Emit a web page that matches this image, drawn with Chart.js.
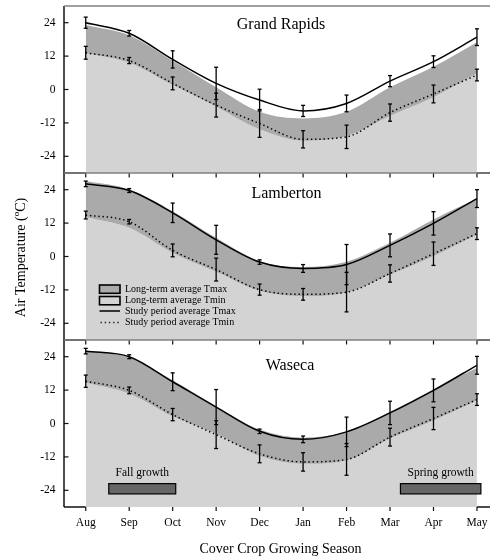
<!DOCTYPE html>
<html><head><meta charset="utf-8">
<script src="https://cdn.jsdelivr.net/npm/chart.js@4.4.1/dist/chart.umd.min.js"></script>
<style>
html,body{margin:0;padding:0;background:#fff;}
#wrap{position:relative;width:490px;height:560px;}
canvas{position:absolute;left:0;top:0;}
</style></head><body>
<div id="wrap">
<canvas id="c1" width="490" height="560"></canvas>
<canvas id="c2" width="490" height="560"></canvas>
<canvas id="c3" width="490" height="560"></canvas>
</div>
<script>
// ---------- data ----------
const months = ['Aug','Sep','Oct','Nov','Dec','Jan','Feb','Mar','Apr','May'];
const yTicks = [-24, -12, 0, 12, 24];
const siteNames = ['Grand Rapids', 'Lamberton', 'Waseca'];

const grStudyTmax    = [24.0, 20.2, 10.8, 2.2, -3.8, -7.7, -5.0, 3.0, 10.0, 18.8];
const grStudyTmaxErr = [2.0, 1.0, 3.1, 5.8, 3.9, 2.0, 3.0, 2.0, 2.1, 3.0];
const grStudyTmin    = [13.2, 10.4, 2.2, -5.6, -12.2, -17.9, -17.0, -8.3, -1.6, 5.2];
const grStudyTminErr = [2.3, 1.1, 2.3, 4.3, 5.0, 3.1, 4.2, 3.1, 3.2, 2.1];
const grLongTmax     = [23.2, 19.5, 10.3, 0.8, -8.0, -10.4, -8.0, 0.8, 8.2, 17.0];
const grLongTmin     = [13.0, 9.6, 1.6, -6.2, -14.3, -18.4, -16.7, -9.5, -2.8, 5.8];

const laStudyTmax    = [26.1, 23.7, 15.7, 6.0, -2.0, -4.3, -2.9, 4.0, 11.9, 20.8];
const laStudyTmaxErr = [1.0, 0.7, 3.5, 5.2, 0.8, 1.4, 7.2, 4.1, 4.2, 3.2];
const laStudyTmin    = [14.9, 12.5, 2.2, -4.7, -11.9, -13.6, -12.8, -6.1, 1.0, 8.2];
const laStudyTminErr = [1.4, 0.8, 2.3, 4.1, 2.0, 2.1, 7.1, 3.1, 4.2, 2.1];
const laLongTmax     = [27.1, 24.1, 16.3, 6.7, -1.7, -3.8, -1.9, 4.9, 13.3, 20.8];
const laLongTmin     = [14.2, 10.3, 1.3, -5.5, -12.4, -14.2, -13.0, -6.5, 0.1, 7.9];

const waStudyTmax    = [26.0, 24.0, 15.0, 5.9, -2.8, -5.7, -3.0, 3.8, 11.9, 20.9];
const waStudyTmaxErr = [1.0, 0.7, 3.2, 6.3, 0.8, 1.2, 5.3, 4.2, 4.1, 3.2];
const waStudyTmin    = [15.2, 11.9, 3.2, -4.0, -10.9, -13.8, -12.9, -4.9, 1.8, 8.6];
const waStudyTminErr = [2.2, 1.2, 2.2, 5.0, 3.2, 3.3, 5.7, 3.2, 4.0, 2.1];
const waLongTmax     = [26.2, 23.6, 15.5, 6.2, -2.2, -5.1, -3.0, 4.2, 12.2, 20.0];
const waLongTmin     = [14.6, 10.7, 2.6, -3.7, -11.7, -14.5, -13.3, -5.4, 1.1, 8.3];

const legendLabels = ['Long-term average Tmax', 'Long-term average Tmin', 'Study period average Tmax', 'Study period average Tmin'];
const growthLabels = ['Fall growth', 'Spring growth'];
const growthStart  = [0.53, 7.24];   // month index
const growthEnd    = [2.07, 9.09];
const growthTemp   = [-21.6, -25.3]; // bar top / bottom (°C)
const growthLabelTemp = -17.7;

const xTitle = 'Cover Crop Growing Season';
const yTitleParts = ['Air Temperature (', 'o', 'C)'];

// ---------- styles ----------
const FONT = "'Liberation Serif','Times New Roman',serif";
const DARK = '#aaaaaa', LIGHT = '#d3d3d3';
Chart.defaults.font.family = FONT;
Chart.defaults.color = '#000';

function pts(arr){ return arr.map((v,i)=>({x:i, y:v})); }

function line(ctx,x1,y1,x2,y2){ ctx.beginPath(); ctx.moveTo(x1,y1); ctx.lineTo(x2,y2); ctx.stroke(); }

function makeChart(id, p){
  const framePlugin = {
    id: 'frame'+id,
    afterDatasetsDraw(chart){
      const {ctx, chartArea:a, scales:{x, y}} = chart;
      ctx.save();
      // error bars
      ctx.strokeStyle = '#000'; ctx.lineWidth = 1.3;
      [[p.stMax,p.stMaxErr],[p.stMin,p.stMinErr]].forEach(([vals,errs])=>{
        vals.forEach((v,i)=>{
          const px = x.getPixelForValue(i);
          const y1 = y.getPixelForValue(v+errs[i]), y2 = y.getPixelForValue(v-errs[i]);
          line(ctx,px,y1,px,y2);
          line(ctx,px-2,y1,px+2,y1);
          line(ctx,px-2,y2,px+2,y2);
        });
      });
      // axes
      ctx.strokeStyle = '#111'; ctx.lineWidth = 1.5;
      line(ctx,a.left,a.top,a.left,a.bottom);
      const x0 = x.getPixelForValue(0), x9 = x.getPixelForValue(months.length-1);
      line(ctx,a.left,a.bottom,x0,a.bottom);
      line(ctx,x9,a.bottom,a.right,a.bottom);
      ctx.lineWidth = 1.2;
      yTicks.forEach(v=>{ const py = y.getPixelForValue(v); line(ctx,a.left,py,a.left+4.5,py); });
      months.forEach((m,i)=>{
        const px = x.getPixelForValue(i);
        if (p.topTicks) line(ctx,px,a.top,px,a.top+4.5);
        if (p.showX) line(ctx,px,a.bottom,px,a.bottom+4);
      });
      ctx.strokeStyle = '#808080'; ctx.lineWidth = 1.5;
      line(ctx,a.left,a.top,a.right,a.top);
      // panel title
      ctx.fillStyle = '#000';
      ctx.font = '16px '+FONT; ctx.textAlign='center'; ctx.textBaseline='middle';
      ctx.fillText(p.name, p.titleX, p.titleY);
      // legend
      if (p.legend){
        const lx = 99.5, lw = 20.5, tx = 125;
        ctx.lineWidth = 1.6; ctx.strokeStyle = '#000';
        ctx.fillStyle = DARK; ctx.fillRect(lx,285,lw,8.3); ctx.strokeRect(lx,285,lw,8.3);
        ctx.fillStyle = LIGHT; ctx.fillRect(lx,296.5,lw,8.3); ctx.strokeRect(lx,296.5,lw,8.3);
        ctx.strokeStyle = '#222'; ctx.lineWidth = 1.8;
        line(ctx,lx,311,lx+lw,311);
        ctx.setLineDash([1.4,2.8]); ctx.lineWidth = 1.4;
        line(ctx,lx+1,322.5,lx+lw,322.5);
        ctx.setLineDash([]);
        ctx.fillStyle = '#000'; ctx.font = '10px '+FONT; ctx.textAlign='left'; ctx.textBaseline='middle';
        const ly = [289, 300.5, 311, 322.5];
        legendLabels.forEach((t,i)=>ctx.fillText(t, tx, ly[i]));
        // y axis title
        ctx.save();
        ctx.translate(20, 257.5); ctx.rotate(-Math.PI/2);
        ctx.font = '14px '+FONT;
        const w0 = ctx.measureText(yTitleParts[0]).width;
        ctx.font = '9px '+FONT; const w1 = ctx.measureText(yTitleParts[1]).width;
        ctx.font = '14px '+FONT; const w2 = ctx.measureText(yTitleParts[2]).width;
        let sx = -(w0+w1+w2)/2;
        ctx.textAlign='left'; ctx.textBaseline='alphabetic';
        ctx.fillText(yTitleParts[0], sx, 5); sx += w0;
        ctx.font = '9px '+FONT; ctx.fillText(yTitleParts[1], sx, -1); sx += w1;
        ctx.font = '14px '+FONT; ctx.fillText(yTitleParts[2], sx, 5);
        ctx.restore();
      }
      // growth periods
      if (p.growth){
        ctx.lineWidth = 1.2; ctx.strokeStyle = '#000';
        growthLabels.forEach((t,i)=>{
          const xa = x.getPixelForValue(growthStart[i]), xb = x.getPixelForValue(growthEnd[i]);
          const ya = y.getPixelForValue(growthTemp[0]), yb = y.getPixelForValue(growthTemp[1]);
          ctx.fillStyle = '#666';
          ctx.fillRect(xa,ya,xb-xa,yb-ya); ctx.strokeRect(xa,ya,xb-xa,yb-ya);
          ctx.fillStyle = '#000'; ctx.font = '11.5px '+FONT; ctx.textAlign='center'; ctx.textBaseline='middle';
          ctx.fillText(t, (xa+xb)/2, y.getPixelForValue(growthLabelTemp));
        });
        ctx.font = '14px '+FONT; ctx.textAlign='center'; ctx.textBaseline='middle';
        ctx.fillText(xTitle, 280.5, 549);
      }
      ctx.restore();
    }
  };

  return new Chart(document.getElementById(id), {
    type: 'line',
    data: {
      datasets: [
        { label: legendLabels[2], data: pts(p.stMax), borderColor:'#000', borderWidth:1.5, fill:false },
        { label: legendLabels[3], data: pts(p.stMin), borderColor:'#000', borderWidth:1.5, borderDash:[1.4,2.8], fill:false },
        { label: legendLabels[0], data: pts(p.ltMax), borderWidth:0, borderColor:'rgba(0,0,0,0)', backgroundColor: DARK, fill:'+1' },
        { label: legendLabels[1], data: pts(p.ltMin), borderWidth:0, borderColor:'rgba(0,0,0,0)', backgroundColor: LIGHT, fill:'start' }
      ]
    },
    options: {
      responsive:false, animation:false, devicePixelRatio:1,
      layout:{ padding:{ top:p.padTop, bottom:p.padBottom, left:0, right:0 } },
      plugins:{ legend:{display:false}, tooltip:{enabled:false}, filler:{ drawTime:'beforeDatasetsDraw', propagate:false } },
      elements:{ point:{ radius:0 }, line:{ cubicInterpolationMode:'monotone' } },
      scales:{
        x:{ type:'linear', min:-0.5, max:9.3, display:p.showX,
            grid:{display:false, drawTicks:false}, border:{display:false},
            afterBuildTicks:s=>{ s.ticks = months.map((m,i)=>({value:i})); },
            afterFit:s=>{ s.height = p.showX ? 30 : 0; s.paddingLeft = 0; s.paddingRight = 0; s.paddingTop = 0; s.paddingBottom = 0; },
            ticks:{ padding:9, font:{size:11.5, lineHeight:1.2}, maxRotation:0, autoSkip:false, callback:v=>months[v] } },
        y:{ type:'linear', min:-30, max:30,
            grid:{display:false, drawTicks:false}, border:{display:false},
            afterBuildTicks:s=>{ s.ticks = yTicks.map(v=>({value:v})); },
            afterFit:s=>{ s.width = 64; s.paddingTop = 0; s.paddingBottom = 0; s.paddingLeft = 0; s.paddingRight = 0; },
            ticks:{ padding:8.5, font:{size:11.5, lineHeight:1}, callback:v=>String(v) } }
      }
    },
    plugins:[framePlugin]
  });
}

makeChart('c1', { name:siteNames[0], stMax:grStudyTmax, stMaxErr:grStudyTmaxErr, stMin:grStudyTmin, stMinErr:grStudyTminErr,
  ltMax:grLongTmax, ltMin:grLongTmin, padTop:6, padBottom:387, showX:false, topTicks:false, titleX:281, titleY:25 });
makeChart('c2', { name:siteNames[1], stMax:laStudyTmax, stMaxErr:laStudyTmaxErr, stMin:laStudyTmin, stMinErr:laStudyTminErr,
  ltMax:laLongTmax, ltMin:laLongTmin, padTop:173, padBottom:220, showX:false, topTicks:true, legend:true, titleX:286.5, titleY:194 });
makeChart('c3', { name:siteNames[2], stMax:waStudyTmax, stMaxErr:waStudyTmaxErr, stMin:waStudyTmin, stMinErr:waStudyTminErr,
  ltMax:waLongTmax, ltMin:waLongTmin, padTop:340, padBottom:23, showX:true, topTicks:true, growth:true, titleX:290, titleY:366 });
</script>
</body></html>
